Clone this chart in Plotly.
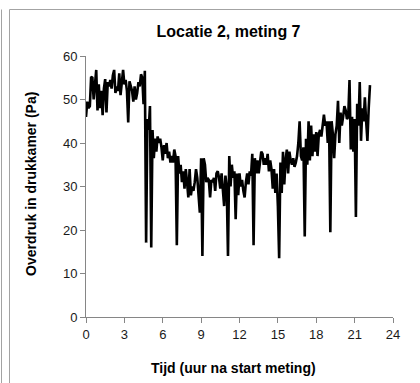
import numpy as np
import plotly.graph_objects as go

# Pressure readings every 0.1 h (6 minutes) from the start of the measurement
time_step_h = 0.1
pressure_pa = [
    46, 49.5, 48, 48.5, 55.2, 55, 50, 54, 56.8, 47.5,
    53.5, 48, 52, 46.4, 52.5, 54.7, 47, 54, 53, 54.5,
    52.5, 55.5, 56.8, 51.5, 53, 52, 56, 51, 53.5, 56.8,
    53.5, 54.5, 52, 44.7, 54.2, 53, 52, 49.5, 53, 50,
    51.5, 54, 53, 55.8, 55, 48.9, 56.6, 17.1, 45.5, 43,
    48.5, 16, 43, 36.5, 41, 38, 41.5, 40, 41, 39,
    36, 39.5, 37.5, 40, 36.5, 38, 35.5, 37, 35.5, 38.5,
    37, 16.5, 37, 33, 35, 31, 33.5, 29.5, 34, 31,
    27.5, 34, 28, 30, 29, 31, 34, 32, 28, 24,
    36.5, 14, 36.5, 35, 31, 32, 31.5, 27.5, 31.5, 31,
    32, 29, 33, 33.5, 32, 29.5, 33, 30, 25.5, 32.5,
    30, 14, 37, 30, 35, 32, 33.5, 22.5, 33, 28,
    33, 30, 31.5, 29, 27.5, 31, 33, 30.5, 33.5, 32.5,
    37.5, 16.5, 36.5, 33, 36, 33, 35, 38, 37.5, 35,
    36.5, 35, 37.5, 33.5, 36, 34, 29.5, 34, 28.5, 33,
    25.5, 13.5, 35.5, 28.5, 38, 30.5, 36, 38.5, 33, 38,
    36, 35, 36.5, 34.5, 35.5, 37, 40, 45, 37, 36,
    39, 18.5, 41, 35, 45, 36, 44, 37, 42, 38,
    42.5, 37, 42, 43, 41.5, 44, 46.5, 44, 45, 40,
    45, 19.5, 45, 42, 36.5, 42, 44, 49.7, 40, 47,
    44, 46, 48.5, 47.5, 45.5, 46, 54.5, 38.5, 46, 38,
    45.5, 23, 49, 44, 54, 40.5, 48, 45, 50.5, 45,
    40.5, 48, 53.3,
]
time_h = np.arange(len(pressure_pa)) * time_step_h

x_ticks = [0, 3, 6, 9, 12, 15, 18, 21, 24]
y_ticks = [0, 10, 20, 30, 40, 50, 60]

W, H = 420, 383
L, R, T, B = 86, 27, 56, 66
pw, ph = W - L - R, H - T - B


def px(xpix):
    return (xpix - L) / pw


def py(ypix):
    return (H - B - ypix) / ph


font_family = "Liberation Sans, Arial, sans-serif"
axis_grey = "#868686"
frame_grey = "#a3a3a3"

fig = go.Figure(
    go.Scatter(
        x=time_h,
        y=pressure_pa,
        mode="lines",
        line=dict(color="#000000", width=2.6),
        hoverinfo="skip",
    )
)

axis_common = dict(
    showgrid=False,
    zeroline=False,
    showline=True,
    linecolor=axis_grey,
    linewidth=1,
    ticks="outside",
    ticklen=5,
    tickwidth=1,
    tickcolor=axis_grey,
    tickfont=dict(family=font_family, size=13, color="#1a1a1a"),
)

fig.update_xaxes(range=[0, 24], tickvals=x_ticks, ticktext=[str(v) for v in x_ticks], **axis_common)
fig.update_yaxes(range=[0, 60], tickvals=y_ticks, ticktext=[str(v) for v in y_ticks], **axis_common)

fig.update_layout(
    width=W,
    height=H,
    margin=dict(l=L, r=R, t=T, b=B),
    paper_bgcolor="white",
    plot_bgcolor="white",
    showlegend=False,
    title=dict(
        text="<b>Locatie 2, meting 7</b>",
        font=dict(family=font_family, size=16, color="#000000"),
        x=228.5 / W,
        xref="container",
        xanchor="center",
        y=1 - 31 / H,
        yref="container",
        yanchor="middle",
    ),
    annotations=[
        dict(
            text="<b>Tijd (uur na start meting)</b>",
            x=px(233), y=py(367.5), xref="paper", yref="paper",
            xanchor="center", yanchor="middle", showarrow=False,
            font=dict(family=font_family, size=14, color="#000000"),
        ),
        dict(
            text="<b>Overdruk in drukkamer (Pa)</b>",
            x=px(31), y=py(184), xref="paper", yref="paper",
            xanchor="center", yanchor="middle", showarrow=False, textangle=-90,
            font=dict(family=font_family, size=14, color="#000000"),
        ),
    ],
    shapes=[
        dict(type="line", xref="paper", yref="paper", x0=px(1.5), x1=px(1.5), y0=py(9.5), y1=py(H + 2),
             line=dict(color=frame_grey, width=1)),
        dict(type="line", xref="paper", yref="paper", x0=px(9.5), x1=px(9.5), y0=py(9.5), y1=py(H + 2),
             line=dict(color=frame_grey, width=1)),
        dict(type="line", xref="paper", yref="paper", x0=px(9.5), x1=px(W + 2), y0=py(9.5), y1=py(9.5),
             line=dict(color=frame_grey, width=1)),
    ],
)

fig.write_html("out.html")
